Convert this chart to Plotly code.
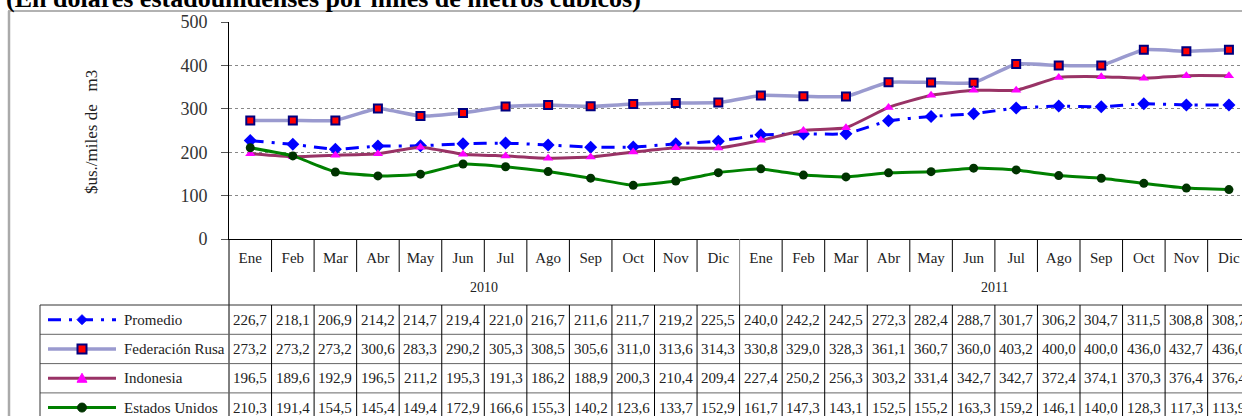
import plotly.graph_objects as go

# ---------------- data ----------------
months = ["Ene", "Feb", "Mar", "Abr", "May", "Jun", "Jul", "Ago", "Sep", "Oct", "Nov", "Dic"]
years = ["2010", "2011"]
categories = [f"{m} {y}" for y in years for m in months]
month_labels = months * 2

series_names = ["Promedio", "Federación Rusa", "Indonesia", "Estados Unidos"]
promedio = [226.7, 218.1, 206.9, 214.2, 214.7, 219.4, 221.0, 216.7, 211.6, 211.7, 219.2, 225.5,
            240.0, 242.2, 242.5, 272.3, 282.4, 288.7, 301.7, 306.2, 304.7, 311.5, 308.8, 308.7]
rusa = [273.2, 273.2, 273.2, 300.6, 283.3, 290.2, 305.3, 308.5, 305.6, 311.0, 313.6, 314.3,
        330.8, 329.0, 328.3, 361.1, 360.7, 360.0, 403.2, 400.0, 400.0, 436.0, 432.7, 436.0]
indonesia = [196.5, 189.6, 192.9, 196.5, 211.2, 195.3, 191.3, 186.2, 188.9, 200.3, 210.4, 209.4,
             227.4, 250.2, 256.3, 303.2, 331.4, 342.7, 342.7, 372.4, 374.1, 370.3, 376.4, 376.4]
eeuu = [210.3, 191.4, 154.5, 145.4, 149.4, 172.9, 166.6, 155.3, 140.2, 123.6, 133.7, 152.9,
        161.7, 147.3, 143.1, 152.5, 155.2, 163.3, 159.2, 146.1, 140.0, 128.3, 117.3, 113.9]
series_values = [promedio, rusa, indonesia, eeuu]

title_text = "(En dólares estadounidenses por miles de metros cúbicos)"
y_title = "$us./miles de\u00a0\u00a0 m3"

# ---------------- layout geometry ----------------
W, H = 1242, 416
L, T, B = 229, 22, 177
PW, PH = W - L, H - T - B
COLW = 42.55
X0 = -0.5
X1 = -0.5 + PW / COLW

FONT = "'Liberation Serif', 'Times New Roman', 'DejaVu Serif', serif"
TXT = "#222222"


def px(xp):
    return (xp - L) / PW


def py(yp):
    return (H - B - yp) / PH


def cx(i):
    return (i - X0) / (X1 - X0)


styles = [
    dict(line=dict(color="#0000FF", width=3, dash="13px,8px,3px,8px"),
         marker=dict(symbol="diamond", size=10, color="#0000FF")),
    dict(line=dict(color="#9A9ACF", width=3.5),
         marker=dict(symbol="square", size=8, color="#FF0000", line=dict(color="#000080", width=2))),
    dict(line=dict(color="#993366", width=3),
         marker=dict(symbol="triangle-up", size=9, color="#FF00FF")),
    dict(line=dict(color="#008000", width=3),
         marker=dict(symbol="circle", size=9, color="#003300")),
]

fig = go.Figure()
for name, vals, st in zip(series_names, series_values, styles):
    line = dict(st["line"])
    line.update(shape="spline", smoothing=0.4)
    fig.add_trace(go.Scatter(x=categories, y=vals, name=name, mode="lines+markers",
                             line=line, marker=st["marker"], showlegend=False))

shapes = []
annotations = []

# outer frame
shapes.append(dict(type="line", xref="paper", yref="paper", x0=px(8), x1=px(W + 5), y0=py(11), y1=py(11),
                   line=dict(color="#999999", width=1.5)))
shapes.append(dict(type="line", xref="paper", yref="paper", x0=px(9), x1=px(9), y0=py(11), y1=py(H + 5),
                   line=dict(color="#AAAAAA", width=2.5)))
# y axis extension down through the table
shapes.append(dict(type="line", xref="paper", yref="paper", x0=0, x1=0, y0=py(239), y1=py(H + 5),
                   line=dict(color="#000000", width=1)))

# month separators and year separator
n = len(categories)
for i in range(n - 1):
    if i == 11:
        shapes.append(dict(type="line", xref="paper", yref="paper", x0=cx(i + 0.5), x1=cx(i + 0.5),
                           y0=py(239), y1=py(305), line=dict(color="#888888", width=1)))
    else:
        shapes.append(dict(type="line", xref="paper", yref="paper", x0=cx(i + 0.5), x1=cx(i + 0.5),
                           y0=py(239), y1=py(272), line=dict(color="#000000", width=1)))

# table
TAB_TOP = 305
ROW_H = 29.3
TAB_LEFT = 40
shapes.append(dict(type="line", xref="paper", yref="paper", x0=px(TAB_LEFT), x1=px(W + 5),
                   y0=py(TAB_TOP), y1=py(TAB_TOP), line=dict(color="#333333", width=1)))
for r in range(1, len(series_names)):
    yy = TAB_TOP + r * ROW_H
    shapes.append(dict(type="line", xref="paper", yref="paper", x0=px(TAB_LEFT), x1=px(W + 5),
                       y0=py(yy), y1=py(yy), line=dict(color="#666666", width=1)))
shapes.append(dict(type="line", xref="paper", yref="paper", x0=px(TAB_LEFT), x1=px(TAB_LEFT),
                   y0=py(TAB_TOP), y1=py(H + 5), line=dict(color="#333333", width=1)))
for i in range(n):
    shapes.append(dict(type="line", xref="paper", yref="paper", x0=cx(i + 0.5), x1=cx(i + 0.5),
                       y0=py(TAB_TOP), y1=py(H + 5), line=dict(color="#000000", width=1)))

# table values
for r, vals in enumerate(series_values):
    yc = TAB_TOP + (r + 0.5) * ROW_H
    for c, v in zip(categories, vals):
        annotations.append(dict(x=c, xref="x", y=py(yc), yref="paper",
                                text=f"{v:.1f}".replace(".", ","), showarrow=False,
                                xanchor="center", yanchor="middle",
                                font=dict(family=FONT, size=15, color=TXT)))

# legend column
for r, (name, st) in enumerate(zip(series_names, styles)):
    yc = TAB_TOP + (r + 0.5) * ROW_H
    ln = st["line"]
    shapes.append(dict(type="line", xref="paper", yref="paper", x0=px(48), x1=px(116),
                       y0=py(yc), y1=py(yc),
                       line=dict(color=ln["color"], width=ln["width"], dash=ln.get("dash", "solid"))))
    mk = st["marker"]
    mx = 82
    if mk["symbol"] == "diamond":
        d = 5
        path = (f"M{px(mx)},{py(yc - d)} L{px(mx + d)},{py(yc)} L{px(mx)},{py(yc + d)} "
                f"L{px(mx - d)},{py(yc)} Z")
        shapes.append(dict(type="path", xref="paper", yref="paper", path=path,
                           fillcolor=mk["color"], line=dict(color=mk["color"], width=1)))
    elif mk["symbol"] == "square":
        d = 4.5
        shapes.append(dict(type="rect", xref="paper", yref="paper", x0=px(mx - d), x1=px(mx + d),
                           y0=py(yc - d), y1=py(yc + d), fillcolor=mk["color"],
                           line=dict(color=mk["line"]["color"], width=2)))
    elif mk["symbol"] == "triangle-up":
        d = 5
        path = (f"M{px(mx)},{py(yc - d)} L{px(mx + d)},{py(yc + d * 0.8)} "
                f"L{px(mx - d)},{py(yc + d * 0.8)} Z")
        shapes.append(dict(type="path", xref="paper", yref="paper", path=path,
                           fillcolor=mk["color"], line=dict(color=mk["color"], width=1)))
    else:
        d = 4.5
        shapes.append(dict(type="circle", xref="paper", yref="paper", x0=px(mx - d), x1=px(mx + d),
                           y0=py(yc - d), y1=py(yc + d), fillcolor=mk["color"],
                           line=dict(color=mk["color"], width=1)))
    annotations.append(dict(x=px(122), xref="paper", y=py(yc), yref="paper", text=name,
                            showarrow=False, xanchor="left", yanchor="middle",
                            font=dict(family=FONT, size=15, color=TXT)))

# year labels
for k, yr in enumerate(years):
    annotations.append(dict(x=cx(k * 12 + 5.5), xref="paper", y=py(287), yref="paper", text=yr,
                            showarrow=False, xanchor="center", yanchor="middle",
                            font=dict(family=FONT, size=14, color=TXT)))

# y axis title
annotations.append(dict(x=px(91), xref="paper", y=py(132), yref="paper", text=y_title,
                        showarrow=False, textangle=-90, xanchor="center", yanchor="middle",
                        font=dict(family=FONT, size=17, color=TXT)))

# title (cut off at the top in the reference)
annotations.append(dict(x=px(4), xref="paper", y=py(-1.5), yref="paper", text=f"<b>{title_text}</b>",
                        showarrow=False, xanchor="left", yanchor="middle",
                        font=dict(family=FONT, size=26, color="#000000")))

fig.update_layout(
    width=W, height=H,
    margin=dict(l=L, r=0, t=T, b=B),
    paper_bgcolor="white", plot_bgcolor="white",
    font=dict(family=FONT, color=TXT),
    shapes=shapes, annotations=annotations,
    showlegend=False,
    xaxis=dict(type="category", range=[X0, X1], tickvals=categories, ticktext=month_labels,
               showline=True, linecolor="#000000", linewidth=1, showgrid=False, ticks="",
               ticklabelstandoff=5, tickfont=dict(family=FONT, size=15, color=TXT), zeroline=False),
    yaxis=dict(range=[0, 500], dtick=100, showline=True, linecolor="#000000", linewidth=1,
               showgrid=True, gridcolor="#888888", griddash="dot", gridwidth=1,
               ticks="outside", ticklen=7, tickcolor="#555555", ticklabelstandoff=10,
               tickfont=dict(family=FONT, size=18, color="#333333"), zeroline=False),
)

fig.write_html("out.html", config={"displayModeBar": False},
               post_script="document.body.style.margin='0';document.body.style.overflow='hidden';")
